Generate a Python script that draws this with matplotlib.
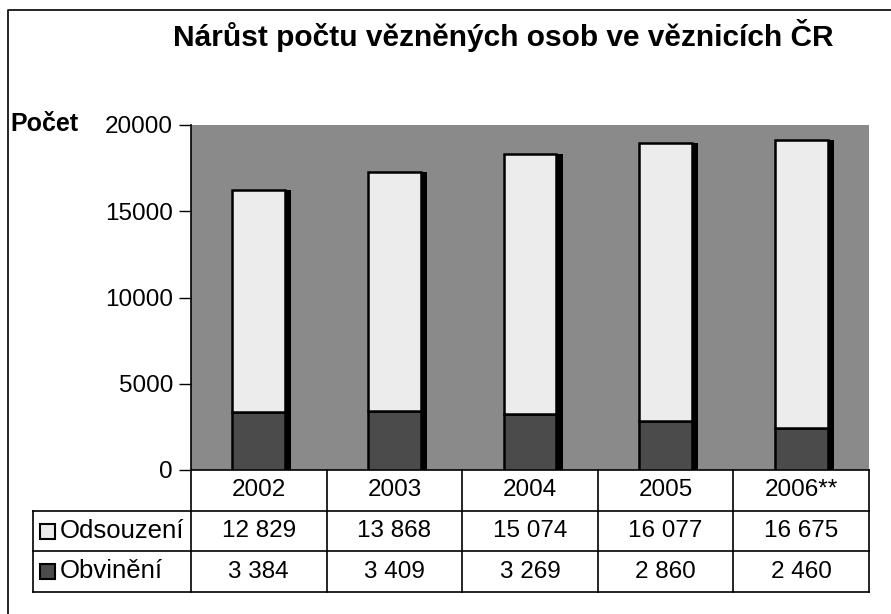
import matplotlib
matplotlib.use("Agg")
import matplotlib.pyplot as plt
from matplotlib.patches import Rectangle

plt.rcParams["font.family"] = ["Liberation Sans", "DejaVu Sans"]

years = ["2002", "2003", "2004", "2005", "2006**"]
odsouzeni = [12829, 13868, 15074, 16077, 16675]
obvineni = [3384, 3409, 3269, 2860, 2460]
yticks = [0, 5000, 10000, 15000, 20000]

W, H = 891, 614
fig = plt.figure(figsize=(W / 100, H / 100), dpi=100)

# plot area in pixels
left, right, top, bottom = 191, 869, 125, 470
ax = fig.add_axes([left / W, 1 - bottom / H, (right - left) / W, (bottom - top) / H])
ax.set_facecolor("#8a8a8a")

x = list(range(len(years)))
bw = 0.39
shadow = 0.045
totals = [a + b for a, b in zip(odsouzeni, obvineni)]
# dark side of the 3D bars
ax.bar([i + shadow / 2 for i in x], totals, width=bw + shadow, color="black", zorder=2)
ax.bar(x, obvineni, width=bw, color="#4b4b4b", edgecolor="black", linewidth=1.8, zorder=3)
ax.bar(x, odsouzeni, width=bw, bottom=obvineni, color="#ececec", edgecolor="black",
       linewidth=1.8, zorder=3)

ax.set_xlim(-0.5, len(years) - 0.5)
ax.set_ylim(0, 20000)
ax.set_yticks(yticks)
ax.set_yticklabels([str(v) for v in yticks], fontsize=17.5)
ax.tick_params(axis="y", length=9, width=1, pad=4)
ax.set_xticks([])
for s in ["top", "right"]:
    ax.spines[s].set_visible(False)
ax.spines["left"].set_linewidth(1.2)
ax.spines["bottom"].set_linewidth(1.2)

# overlay in pixel coordinates for title, frame and data table
ov = fig.add_axes([0, 0, 1, 1], facecolor="none")
ov.set_xlim(0, W)
ov.set_ylim(H, 0)
ov.axis("off")

ov.plot([8, 8, W], [H, 10, 10], color="black", lw=1.2)
ov.text(503, 36, "Nárůst počtu vězněných osob ve věznicích ČR", fontsize=21.5,
        fontweight="bold", ha="center", va="center")
ov.text(10, 124, "Počet", fontsize=18, fontweight="bold", ha="left", va="center")

colw = (right - left) / len(years)
rows = [470, 511, 551, 592]
tleft = 33
for y in rows[1:]:
    ov.plot([tleft, right], [y, y], color="black", lw=1.2)
ov.plot([tleft, tleft], [rows[1], rows[3]], color="black", lw=1.2)
for k in range(len(years) + 1):
    xx = left + k * colw
    ov.plot([xx, xx], [rows[0], rows[3]], color="black", lw=1.2)

fmt = lambda v: f"{v:,}".replace(",", " ")
for i, yr in enumerate(years):
    cx = left + (i + 0.5) * colw
    ov.text(cx, (rows[0] + rows[1]) / 2, yr, fontsize=17.5, ha="center", va="center")
    ov.text(cx, (rows[1] + rows[2]) / 2, fmt(odsouzeni[i]), fontsize=17.5, ha="center", va="center")
    ov.text(cx, (rows[2] + rows[3]) / 2, fmt(obvineni[i]), fontsize=17.5, ha="center", va="center")

for (y0, y1), name, col in [((rows[1], rows[2]), "Odsouzení", "#ececec"),
                             ((rows[2], rows[3]), "Obvinění", "#4b4b4b")]:
    cy = (y0 + y1) / 2
    ov.add_patch(Rectangle((40, cy - 7.5), 15, 15, facecolor=col, edgecolor="black", lw=1.5))
    ov.text(60, cy, name, fontsize=18.5, ha="left", va="center")

fig.savefig("out.png", dpi=100)
